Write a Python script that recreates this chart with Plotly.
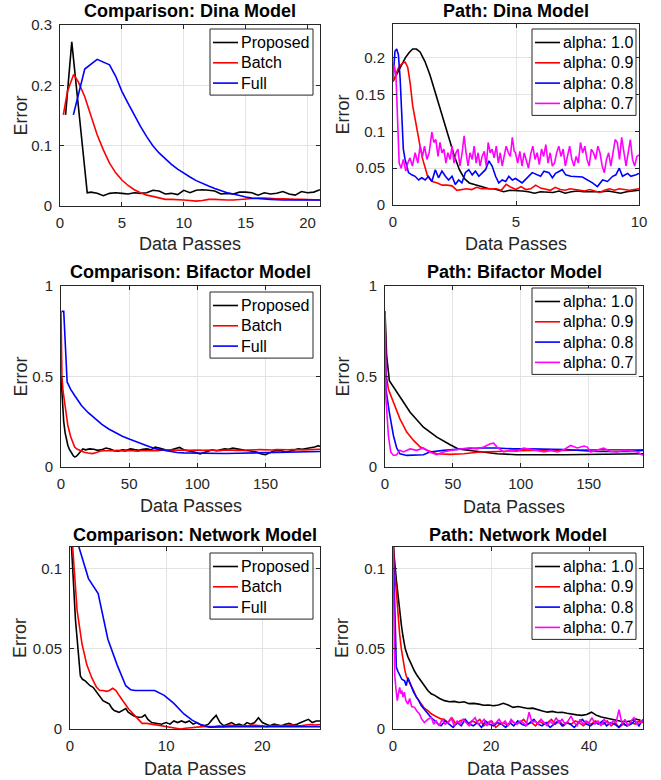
import numpy as np
import plotly.graph_objects as go

# ---------------- DATA ----------------
# Panel 1: Comparison: Dina Model
p1_prop_x = [0.45, 0.95, 2.2] + list(np.arange(2.5, 21.01, 0.5))
p1_prop_y = [0.151, 0.272, 0.022,
             0.023, 0.021, 0.017, 0.021, 0.022, 0.021, 0.020, 0.022, 0.021, 0.022,
             0.026, 0.025, 0.020, 0.021, 0.019, 0.026, 0.022, 0.026, 0.027, 0.026,
             0.025, 0.020, 0.021, 0.020, 0.023, 0.023, 0.022, 0.018, 0.022, 0.020,
             0.021, 0.024, 0.020, 0.018, 0.024, 0.022, 0.023, 0.027]
p1_batch_x = [0.27, 0.6, 1.1, 1.5] + list(np.arange(2.0, 21.01, 0.5))
p1_batch_y = [0.151, 0.19, 0.218, 0.205,
              0.181, 0.148, 0.118, 0.093, 0.071, 0.055, 0.043, 0.034, 0.027, 0.022,
              0.018, 0.016, 0.013, 0.011, 0.011, 0.011, 0.010, 0.009, 0.008, 0.009,
              0.011, 0.011, 0.010, 0.010, 0.010, 0.011, 0.012, 0.013, 0.013, 0.013,
              0.012, 0.012, 0.012, 0.011, 0.011, 0.011, 0.011, 0.010, 0.010]
p1_full_x = [1.08, 2, 3, 4, 4.5, 5, 5.5, 6, 6.5, 7, 7.5, 8, 8.5, 9, 9.5, 10, 10.5, 11,
             11.5, 12, 12.5, 13, 13.5, 14, 14.5, 15, 15.5, 16, 16.5, 17, 18, 19, 20, 21]
p1_full_y = [0.151, 0.227, 0.243, 0.234, 0.215, 0.19, 0.17, 0.15, 0.132, 0.115, 0.1,
             0.088, 0.078, 0.069, 0.061, 0.054, 0.048, 0.042, 0.037, 0.033, 0.029,
             0.025, 0.022, 0.02, 0.017, 0.015, 0.013, 0.012, 0.011, 0.011, 0.010,
             0.010, 0.010, 0.010]

# Panel 2: Path: Dina Model
p2_a10_x = [0, 0.15, 0.3, 0.5, 0.65, 0.8, 0.95, 1.1, 1.3, 1.5, 1.7, 1.9, 2.1, 2.3, 2.5,
            2.7, 2.9, 3.1, 3.3, 3.5, 3.7, 3.9, 4.1, 4.3] + list(np.arange(4.5, 10.01, 0.25))
p2_a10_y = [0.168, 0.178, 0.188, 0.2, 0.207, 0.212, 0.212, 0.208, 0.195, 0.177, 0.155,
            0.133, 0.112, 0.088, 0.066, 0.048, 0.036, 0.030, 0.028, 0.026, 0.023, 0.022,
            0.022, 0.020,
            0.018, 0.020, 0.020, 0.019, 0.018, 0.016, 0.018, 0.018, 0.017, 0.019, 0.016,
            0.018, 0.019, 0.018, 0.018, 0.017, 0.018, 0.019, 0.018, 0.016, 0.018, 0.019,
            0.020]
p2_a09_x = [0, 0.1, 0.2, 0.3, 0.4, 0.5, 0.6, 0.7, 0.8, 0.9, 1.0, 1.1, 1.2, 1.3, 1.4, 1.5,
            1.6, 1.8] + list(np.arange(2.0, 10.01, 0.2))
p2_a09_y = [0.168, 0.175, 0.185, 0.19, 0.193, 0.194, 0.187, 0.165, 0.135, 0.115, 0.097,
            0.08, 0.063, 0.05, 0.04, 0.035, 0.032, 0.030,
            0.027, 0.027, 0.026, 0.020, 0.021, 0.022, 0.021, 0.024, 0.022, 0.022, 0.023,
            0.022, 0.020, 0.028, 0.024, 0.021, 0.025, 0.021, 0.022, 0.027, 0.023, 0.021,
            0.020, 0.024, 0.021, 0.020, 0.022, 0.021, 0.020, 0.019, 0.021, 0.019, 0.017,
            0.020, 0.022, 0.020, 0.022, 0.021, 0.020, 0.021, 0.022]
p2_a08_x = [0, 0.08, 0.15, 0.22, 0.29, 0.35, 0.42, 0.49, 0.56, 0.63, 0.76, 0.9, 1.04,
            1.17, 1.31, 1.44, 1.58, 1.72, 1.85, 1.99, 2.13, 2.26, 2.4, 2.53, 2.67, 2.8,
            2.94, 3.08, 3.22, 3.35, 3.49, 3.62, 3.76, 3.9, 4.03, 4.17, 4.3, 4.44, 4.58,
            4.71, 4.85, 4.98, 5.25, 5.66, 6.0, 6.14, 6.34, 6.48, 6.61, 6.88, 7.02, 7.23,
            7.43, 7.7, 8.11, 8.31, 8.52, 8.72, 8.93, 9.06, 9.2, 9.33, 9.54, 9.67, 9.88, 10.0]
p2_a08_y = [0.17, 0.209, 0.212, 0.204, 0.172, 0.117, 0.076, 0.062, 0.053, 0.044, 0.041,
            0.039, 0.034, 0.037, 0.034, 0.039, 0.032, 0.048, 0.037, 0.046, 0.039, 0.034,
            0.039, 0.028, 0.034, 0.030, 0.044, 0.048, 0.041, 0.046, 0.039, 0.044, 0.048,
            0.060, 0.053, 0.039, 0.030, 0.034, 0.032, 0.039, 0.034, 0.036, 0.030, 0.044,
            0.039, 0.046, 0.044, 0.037, 0.043, 0.048, 0.041, 0.039, 0.039, 0.038, 0.030,
            0.025, 0.034, 0.032, 0.039, 0.041, 0.050, 0.039, 0.043, 0.039, 0.041, 0.043]
p2_a07_head_x = [0, 0.05, 0.12, 0.19, 0.25, 0.33, 0.42, 0.52, 0.6, 0.69, 0.79, 0.9, 1.01,
                 1.1, 1.2, 1.28, 1.38, 1.47, 1.58, 1.66, 1.74, 1.83, 1.91, 1.99, 2.07,
                 2.15, 2.23, 2.32, 2.4, 2.48, 2.56, 2.64, 2.72, 2.81, 2.89, 2.97, 3.05,
                 3.13, 3.22, 3.3, 3.38, 3.46, 3.54, 3.62, 3.71, 3.79, 3.87, 3.95, 4.03,
                 4.11, 4.2, 4.28, 4.36, 4.44, 4.52, 4.6, 4.69, 4.77, 4.85, 4.93]
p2_a07_head_y = [0.17, 0.19, 0.177, 0.117, 0.057, 0.05, 0.062, 0.046, 0.057, 0.064, 0.053,
                 0.071, 0.057, 0.08, 0.066, 0.08, 0.062, 0.071, 0.099, 0.085, 0.089, 0.066,
                 0.085, 0.071, 0.076, 0.057, 0.071, 0.062, 0.08, 0.057, 0.071, 0.076,
                 0.053, 0.071, 0.094, 0.071, 0.053, 0.071, 0.062, 0.08, 0.057, 0.071,
                 0.053, 0.066, 0.073, 0.053, 0.085, 0.071, 0.076, 0.064, 0.08, 0.057,
                 0.071, 0.053, 0.066, 0.08, 0.071, 0.066, 0.092, 0.073]
p2_a07_tail_y = [0.071, 0.057, 0.073, 0.053, 0.071, 0.062, 0.050, 0.069, 0.080, 0.062,
                 0.071, 0.055, 0.076, 0.066, 0.082, 0.057, 0.071, 0.053, 0.057, 0.071,
                 0.080, 0.066, 0.076, 0.053, 0.066, 0.080, 0.062, 0.053, 0.066, 0.057,
                 0.085, 0.071, 0.080, 0.062, 0.053, 0.076, 0.071, 0.062, 0.080, 0.071,
                 0.053, 0.044, 0.062, 0.071, 0.053, 0.071, 0.089, 0.085, 0.062, 0.092,
                 0.071, 0.053, 0.071, 0.089, 0.062, 0.053, 0.066, 0.068]
p2_a07_x = p2_a07_head_x + list(np.linspace(4.98, 10.0, len(p2_a07_tail_y)))
p2_a07_y = p2_a07_head_y + p2_a07_tail_y

# Panel 3: Comparison: Bifactor Model
p3_prop_x = [0, 0.5, 1, 2, 3, 4, 5, 6, 7, 8, 9, 10, 11, 12, 13, 14, 15, 16, 18] + \
    list(np.arange(21, 190, 3)) + [190]
p3_prop_y = [0.5, 0.42, 0.35, 0.25, 0.19, 0.15, 0.12, 0.1, 0.085, 0.072, 0.062, 0.056,
             0.058, 0.065, 0.075, 0.085, 0.092, 0.1, 0.095,
             0.1, 0.098, 0.092, 0.096, 0.105, 0.1, 0.09, 0.088, 0.095, 0.092, 0.1, 0.096,
             0.093, 0.098, 0.1, 0.095, 0.11, 0.105, 0.098, 0.092, 0.095, 0.1, 0.108,
             0.095, 0.09, 0.088, 0.08, 0.072, 0.08, 0.09, 0.095, 0.09, 0.095, 0.1, 0.098,
             0.104, 0.1, 0.095, 0.092, 0.09, 0.085, 0.082, 0.072, 0.068, 0.078, 0.088,
             0.092, 0.09, 0.082, 0.088, 0.095, 0.1, 0.098, 0.102, 0.105, 0.11, 0.118,
             0.112]
p3_batch_x = [0, 0.3, 0.7, 1.5, 3, 5, 7, 8, 10, 12, 14, 17, 20, 23, 26, 29] + \
    list(np.arange(32, 190, 3)) + [190]
p3_batch_y = [0.86, 0.65, 0.5, 0.42, 0.33, 0.23, 0.17, 0.15, 0.11, 0.098, 0.09, 0.082,
              0.077, 0.074, 0.08, 0.088,
              0.09, 0.088, 0.09, 0.092, 0.09, 0.088, 0.092, 0.09, 0.087, 0.09, 0.088,
              0.09, 0.092, 0.09, 0.093, 0.095, 0.092, 0.094, 0.096, 0.094, 0.092, 0.094,
              0.096, 0.094, 0.092, 0.095, 0.094, 0.092, 0.09, 0.093, 0.095, 0.094, 0.092,
              0.09, 0.092, 0.094, 0.093, 0.095, 0.096, 0.094, 0.092, 0.094, 0.096, 0.095,
              0.093, 0.095, 0.096, 0.094, 0.092, 0.094, 0.096, 0.098, 0.1, 0.098]
p3_full_x = [0.5, 2, 4.5, 7, 10, 15, 20, 25, 30, 35, 40, 45, 50, 55, 60, 65, 70, 75, 80,
             85, 90, 100, 110, 120, 130, 140, 150, 160, 170, 180, 190]
p3_full_y = [0.86, 0.86, 0.47, 0.43, 0.395, 0.34, 0.3, 0.265, 0.235, 0.21, 0.188, 0.17,
             0.155, 0.14, 0.125, 0.112, 0.1, 0.092, 0.085, 0.08, 0.078, 0.076, 0.075,
             0.075, 0.076, 0.077, 0.078, 0.08, 0.082, 0.084, 0.086]

# Panel 4: Path: Bifactor Model
p4_a10_x = [0, 1.2, 3.2, 8.6, 18.5, 28.3, 38.2, 48, 54, 58, 70, 82.5, 97, 132, 190]
p4_a10_y = [0.862, 0.615, 0.477, 0.413, 0.303, 0.22, 0.165, 0.123, 0.1, 0.095, 0.083,
            0.073, 0.068, 0.068, 0.073]
p4_a09_x = [0, 0.7, 2.5, 6.2, 11, 16, 21, 26, 31, 38, 48, 58, 70, 82.5, 107, 132, 156, 190]
p4_a09_y = [0.862, 0.52, 0.43, 0.36, 0.266, 0.193, 0.147, 0.11, 0.092, 0.073, 0.07,
            0.073, 0.083, 0.086, 0.092, 0.092, 0.095, 0.095]
p4_a08_x = [0, 0.7, 3.2, 6.2, 8.6, 11, 16, 23.4, 28.3, 33, 43, 58, 70, 82.5, 95, 107, 132,
            156, 181, 190]
p4_a08_y = [0.862, 0.43, 0.3, 0.174, 0.105, 0.073, 0.064, 0.064, 0.068, 0.083, 0.092,
            0.1, 0.105, 0.105, 0.1, 0.1, 0.097, 0.086, 0.086, 0.092]
p4_a07_x = [0, 0.7, 2.5, 4.2, 6.2, 8.6, 11, 13.5, 18.5, 23.4, 28.3, 33, 38, 43, 48, 53,
            58, 63, 67.7, 72.7, 77.6, 80, 82.5, 87.4, 92.4, 97, 102, 107, 112, 117, 122,
            127, 132, 136.7, 141.6, 146.6, 149, 151.5, 156, 161, 166, 171, 176, 181, 186,
            190]
p4_a07_y = [0.862, 0.376, 0.174, 0.083, 0.064, 0.068, 0.092, 0.083, 0.1, 0.092, 0.105,
            0.083, 0.068, 0.083, 0.092, 0.097, 0.1, 0.106, 0.1, 0.11, 0.128, 0.132, 0.11,
            0.083, 0.092, 0.086, 0.105, 0.1, 0.092, 0.083, 0.092, 0.083, 0.097, 0.119,
            0.105, 0.116, 0.11, 0.083, 0.092, 0.105, 0.086, 0.083, 0.092, 0.086, 0.083,
            0.064]

# Panel 5: Comparison: Network Model
p5_prop_x = [0.1, 0.57, 1.08, 1.3, 1.58, 2.09, 2.4, 2.76, 3.1, 3.43, 3.8, 4.1, 4.35, 4.6,
             5.1, 5.45, 5.8, 6.05, 6.3, 6.7, 7.1, 7.5, 7.8, 8.1, 8.5, 9.0, 9.5] + \
    list(np.arange(10.0, 26.01, 0.4))
p5_prop_y = [0.12, 0.068, 0.033, 0.031, 0.03, 0.027, 0.026, 0.023, 0.02, 0.0177, 0.0165,
             0.0156, 0.013, 0.0115, 0.0104, 0.0115, 0.0128, 0.0105, 0.0094, 0.008,
             0.0073, 0.0075, 0.0088, 0.006, 0.004, 0.0035, 0.003,
             0.004, 0.003, 0.005, 0.004, 0.005, 0.004, 0.005, 0.003, 0.004, 0.0025, 0.002,
             0.003, 0.006, 0.0085, 0.004, 0.002, 0.003, 0.004, 0.0025, 0.003, 0.002,
             0.004, 0.003, 0.004, 0.007, 0.004, 0.003, 0.002, 0.003, 0.0025, 0.002, 0.003,
             0.0035, 0.0025, 0.003, 0.004, 0.005, 0.006, 0.004, 0.005, 0.005]
p5_batch_x = [0.2, 0.74, 1.25, 1.75, 2.26, 2.76, 3.1, 3.43, 3.8, 4.1, 4.44, 4.78, 5.1,
              5.45, 5.8, 6.1, 6.5, 6.8, 7.2, 7.5, 8.0, 8.5, 9.0, 9.5, 10.0, 10.5, 11.0,
              11.5, 12.0, 12.5, 13.2, 13.8, 14.5, 15.0, 15.5, 16.0] + \
    list(np.arange(16.5, 26.01, 0.5))
p5_batch_y = [0.12, 0.074, 0.053, 0.04, 0.032, 0.026, 0.024, 0.024, 0.0235, 0.024,
              0.0254, 0.024, 0.021, 0.0177, 0.015, 0.0125, 0.01, 0.0083, 0.006, 0.0035,
              0.0035, 0.003, 0.0025, 0.002, 0.0015, 0.0006, 0.0004, 0.0, 0.0005, 0.0008,
              0.001, 0.0015, 0.0015, 0.0015, 0.002, 0.0015,
              0.0025, 0.002, 0.0018, 0.0022, 0.002, 0.0025, 0.0022, 0.002, 0.0015, 0.002,
              0.0022, 0.0018, 0.002, 0.0025, 0.0022, 0.002, 0.0025, 0.0028, 0.0025,
              0.0028]
p5_full_x = [0.6, 1.92, 2.93, 3.94, 4.9, 5.8, 6.3, 6.8, 8.8, 9.8, 10.8, 11.85, 12.7, 13.5,
             14.5, 15.5, 17, 20, 23, 26]
p5_full_y = [0.12, 0.0938, 0.0844, 0.056, 0.04, 0.027, 0.0245, 0.024, 0.024, 0.021,
             0.016, 0.0094, 0.0055, 0.003, 0.0012, 0.0015, 0.0015, 0.0015, 0.0015, 0.0015]

# Panel 6: Path: Network Model
p6_a10_x = [0, 0.2, 0.68, 1.0, 1.36, 1.7, 2.03, 2.5, 3.05, 3.5, 4.0, 4.4, 5.0, 5.76, 6.4,
            7.1, 7.8, 8.5, 9.5, 10.5] + list(np.arange(11.5, 51.01, 1.0))
p6_a10_y = [0.12, 0.109, 0.093, 0.083, 0.074, 0.065, 0.058, 0.05, 0.045, 0.042, 0.038,
            0.036, 0.033, 0.03, 0.027, 0.024, 0.022, 0.021, 0.019, 0.0177,
            0.017, 0.0172, 0.0165, 0.017, 0.0158, 0.016, 0.0155, 0.0148, 0.015, 0.0145,
            0.015, 0.016, 0.015, 0.0135, 0.014, 0.0135, 0.0128, 0.013, 0.012, 0.0112,
            0.0105, 0.011, 0.0103, 0.0104, 0.0098, 0.0092, 0.0088, 0.0085, 0.009, 0.0105,
            0.0085, 0.0075, 0.0068, 0.006, 0.0052, 0.0048, 0.0045, 0.005, 0.0062, 0.0055]
p6_a09_head_x = [0, 0.3, 0.68, 1.0, 1.36, 1.7, 2.03, 2.4, 2.7, 3.2, 3.7, 4.2, 4.75, 5.2,
                 5.76, 6.4, 7.1, 7.8, 8.5, 9.2, 9.8]
p6_a09_head_y = [0.12, 0.1, 0.086, 0.07, 0.059, 0.05, 0.043, 0.037, 0.033, 0.03, 0.028,
                 0.024, 0.02, 0.018, 0.0156, 0.013, 0.0115, 0.0095, 0.0083, 0.007, 0.0063]
p6_a09_tail_y = [0.006, 0.004, 0.007, 0.003, 0.005, 0.006, 0.003, 0.005, 0.004, 0.006,
                 0.002, 0.004, 0.005, 0.001, 0.003, 0.004, 0.002, 0.005, 0.003, 0.004,
                 0.006, 0.003, 0.004, 0.002, 0.005, 0.003, 0.004, 0.006, 0.003, 0.005,
                 0.002, 0.004, 0.003, 0.005, 0.004, 0.002, 0.004, 0.003, 0.005, 0.004,
                 0.003, 0.005, 0.002, 0.004, 0.001, 0.003, 0.002, 0.004, 0.003, 0.005,
                 0.004]
p6_a09_x = p6_a09_head_x + list(np.linspace(10.4, 51, len(p6_a09_tail_y)))
p6_a09_y = p6_a09_head_y + p6_a09_tail_y
p6_a08_head_x = [0, 0.3, 0.5, 0.68, 1.0, 1.36, 1.8, 2.37, 2.7, 3.05, 3.4, 3.7, 4.2, 4.75,
                 5.2, 5.76, 6.4, 7.1, 7.8, 8.5, 9.2]
p6_a08_head_y = [0.12, 0.08, 0.045, 0.0385, 0.036, 0.034, 0.031, 0.03, 0.027, 0.032,
                 0.029, 0.026, 0.023, 0.02, 0.018, 0.0146, 0.012, 0.0094, 0.007, 0.0052,
                 0.003]
p6_a08_tail_y = [0.002, 0.005, 0.003, 0.001, 0.004, 0.002, 0.006, 0.003, 0.002, 0.004,
                 0.001, 0.005, 0.003, 0.002, 0.004, 0.003, 0.001, 0.004, 0.002, 0.005,
                 0.003, 0.002, 0.004, 0.006, 0.003, 0.002, 0.004, 0.001, 0.003, 0.005,
                 0.002, 0.004, 0.003, 0.001, 0.004, 0.006, 0.003, 0.002, 0.004, 0.003,
                 0.005, 0.002, 0.004, 0.003, 0.001, 0.004, 0.002, 0.003, 0.005, 0.002,
                 0.006]
p6_a08_x = p6_a08_head_x + list(np.linspace(9.8, 51, len(p6_a08_tail_y)))
p6_a08_y = p6_a08_head_y + p6_a08_tail_y
p6_a07_head_x = [0, 0.2, 0.34, 0.6, 0.88, 1.1, 1.36, 1.6, 1.8, 2.03, 2.3, 2.6, 3.05, 3.4,
                 3.8, 4.4, 4.9, 5.4, 5.9, 6.4, 7.1, 7.8, 8.3]
p6_a07_head_y = [0.12, 0.06, 0.034, 0.025, 0.0177, 0.022, 0.026, 0.022, 0.024, 0.02,
                 0.023, 0.018, 0.0156, 0.019, 0.014, 0.0135, 0.011, 0.0094, 0.006, 0.004,
                 0.006, 0.0073, 0.003]
p6_a07_tail_y = [0.005, 0.002, 0.006, 0.003, 0.004, 0.007, 0.002, 0.005, 0.003, 0.006,
                 0.004, 0.002, 0.005, 0.007, 0.003, 0.004, 0.006, 0.002, 0.005, 0.003,
                 0.004, 0.006, 0.003, 0.005, 0.002, 0.006, 0.004, 0.003, 0.005, 0.004,
                 0.002, 0.0105, 0.004, 0.005, 0.003, 0.006, 0.004, 0.002, 0.005, 0.003,
                 0.007, 0.004, 0.006, 0.003, 0.005, 0.008, 0.004, 0.002, 0.006, 0.003,
                 0.005, 0.004, 0.007, 0.003, 0.005, 0.002, 0.006, 0.004, 0.003, 0.005,
                 0.004, 0.012, 0.003, 0.006, 0.002, 0.005, 0.007, 0.003, 0.004, 0.005]
p6_a07_x = p6_a07_head_x + list(np.linspace(8.8, 51, len(p6_a07_tail_y)))
p6_a07_y = p6_a07_head_y + p6_a07_tail_y

titles = ["Comparison: Dina Model", "Path: Dina Model",
          "Comparison: Bifactor Model", "Path: Bifactor Model",
          "Comparison: Network Model", "Path: Network Model"]
comp_names = ["Proposed", "Batch", "Full"]
path_names = ["alpha: 1.0", "alpha: 0.9", "alpha: 0.8", "alpha: 0.7"]
x_label = "Data Passes"
y_label = "Error"

x_ranges = [[0, 21], [0, 10], [0, 190], [0, 190], [0, 26], [0, 51]]
y_ranges = [[0, 0.3], [0, 0.246], [0, 1], [0, 1], [0, 0.1135], [0, 0.1135]]
x_tickvals = [[0, 5, 10, 15, 20], [0, 5, 10], [0, 50, 100, 150], [0, 50, 100, 150],
              [0, 10, 20], [0, 20, 40]]
x_ticktext = [["0", "5", "10", "15", "20"], ["0", "5", "10"], ["0", "50", "100", "150"],
              ["0", "50", "100", "150"], ["0", "10", "20"], ["0", "20", "40"]]
y_tickvals = [[0, 0.1, 0.2, 0.3], [0, 0.05, 0.1, 0.15, 0.2], [0, 0.5, 1], [0, 0.5, 1],
              [0, 0.05, 0.1], [0, 0.05, 0.1]]
y_ticktext = [["0", "0.1", "0.2", "0.3"], ["0", "0.05", "0.1", "0.15", "0.2"],
              ["0", "0.5", "1"], ["0", "0.5", "1"], ["0", "0.05", "0.1"],
              ["0", "0.05", "0.1"]]

series = [
    [(p1_prop_x, p1_prop_y), (p1_batch_x, p1_batch_y), (p1_full_x, p1_full_y)],
    [(p2_a10_x, p2_a10_y), (p2_a09_x, p2_a09_y), (p2_a08_x, p2_a08_y), (p2_a07_x, p2_a07_y)],
    [(p3_prop_x, p3_prop_y), (p3_batch_x, p3_batch_y), (p3_full_x, p3_full_y)],
    [(p4_a10_x, p4_a10_y), (p4_a09_x, p4_a09_y), (p4_a08_x, p4_a08_y), (p4_a07_x, p4_a07_y)],
    [(p5_prop_x, p5_prop_y), (p5_batch_x, p5_batch_y), (p5_full_x, p5_full_y)],
    [(p6_a10_x, p6_a10_y), (p6_a09_x, p6_a09_y), (p6_a08_x, p6_a08_y), (p6_a07_x, p6_a07_y)],
]

# ---------------- STYLE / LAYOUT ----------------
W, H = 661, 780
colors = ["#000000", "#ff0000", "#0000ff", "#ff00ff"]
FONT = "Liberation Sans, Arial, Helvetica, sans-serif"
AX = "#262626"

# plot boxes in pixels: (left, right, top, bottom)
boxes = [(60, 320, 25, 206), (393, 639, 24, 205),
         (61, 320, 286, 467), (385, 643, 286, 467),
         (70, 320, 547, 729), (393, 643, 547, 729)]
# legend boxes: (left, right, top)
legend_box = [(210, 313, 29), (532, 636, 29), (210, 313, 292),
              (532, 636, 288), (210, 313, 553), (532, 636, 553)]
title_y = [11, 11, 272, 272, 535, 535]
xlabel_y = [244, 244, 506, 507, 769, 769]
ylabel_x = [20, 342, 20, 342, 20, 342]

fig = go.Figure()
layout = dict(width=W, height=H,
              margin=dict(l=0, r=0, t=0, b=0, pad=0, autoexpand=False),
              paper_bgcolor="white", plot_bgcolor="white", showlegend=False,
              font=dict(family=FONT, color=AX), annotations=[], shapes=[])


def px(x):
    return x / W


def py(y):
    return 1 - y / H


for i in range(6):
    k = i + 1
    sfx = "" if k == 1 else str(k)
    names = comp_names if i % 2 == 0 else path_names
    for j, (xs, ys) in enumerate(series[i]):
        fig.add_trace(go.Scatter(x=list(xs), y=ys, mode="lines", name=names[j],
                                 line=dict(color=colors[j], width=1.6),
                                 xaxis="x" + sfx, yaxis="y" + sfx, showlegend=False))
    l, r, t, b = boxes[i]
    axcommon = dict(showline=True, linecolor=AX, linewidth=1, mirror="allticks",
                    ticks="inside", ticklen=4, tickcolor=AX, tickwidth=1,
                    showgrid=True, gridcolor="#e3e3e3", gridwidth=1, zeroline=False,
                    tickfont=dict(family=FONT, size=15, color=AX), fixedrange=True,
                    automargin=False)
    layout["xaxis" + sfx] = dict(domain=[px(l), px(r)], anchor="y" + sfx,
                                 range=x_ranges[i], tickvals=x_tickvals[i],
                                 ticktext=x_ticktext[i], ticklabelstandoff=3, **axcommon)
    layout["yaxis" + sfx] = dict(domain=[py(b), py(t)], anchor="x" + sfx,
                                 range=y_ranges[i], tickvals=y_tickvals[i],
                                 ticktext=y_ticktext[i], ticklabelstandoff=4, **axcommon)

    # legend box drawn from names/colors
    lx0, lx1, ly0 = legend_box[i]
    n = len(names)
    ly1 = ly0 + 13.5 + 20.3 * (n - 1) + 12
    layout["shapes"].append(dict(type="rect", xref="paper", yref="paper",
                                 x0=px(lx0), x1=px(lx1), y0=py(ly1), y1=py(ly0),
                                 line=dict(color=AX, width=1), fillcolor="white",
                                 layer="above"))
    for j in range(n):
        ry = ly0 + 13.5 + 20.3 * j
        layout["shapes"].append(dict(type="line", xref="paper", yref="paper",
                                     x0=px(lx0 + 3), x1=px(lx0 + 28), y0=py(ry), y1=py(ry),
                                     line=dict(color=colors[j], width=1.6), layer="above"))
        layout["annotations"].append(dict(text=names[j], x=px(lx0 + 29), y=py(ry),
                                          xref="paper", yref="paper", showarrow=False,
                                          xanchor="left", yanchor="middle",
                                          font=dict(family=FONT, size=16, color="#000000")))

    cx = px((l + r) / 2)
    layout["annotations"].append(dict(text="<b>" + titles[i] + "</b>", x=cx, y=py(title_y[i]),
                                      xref="paper", yref="paper", showarrow=False,
                                      xanchor="center", yanchor="middle",
                                      font=dict(family=FONT, size=18, color="#000000")))
    layout["annotations"].append(dict(text=x_label, x=cx, y=py(xlabel_y[i]),
                                      xref="paper", yref="paper", showarrow=False,
                                      xanchor="center", yanchor="middle",
                                      font=dict(family=FONT, size=18, color=AX)))
    layout["annotations"].append(dict(text=y_label, x=px(ylabel_x[i]),
                                      y=py((t + b) / 2), textangle=-90,
                                      xref="paper", yref="paper", showarrow=False,
                                      xanchor="center", yanchor="middle",
                                      font=dict(family=FONT, size=18, color=AX)))

fig.update_layout(**layout)
fig.write_html("out.html", config={"displayModeBar": False},
               post_script="document.body.style.margin='0px';"
                           "document.body.style.overflow='hidden';")
